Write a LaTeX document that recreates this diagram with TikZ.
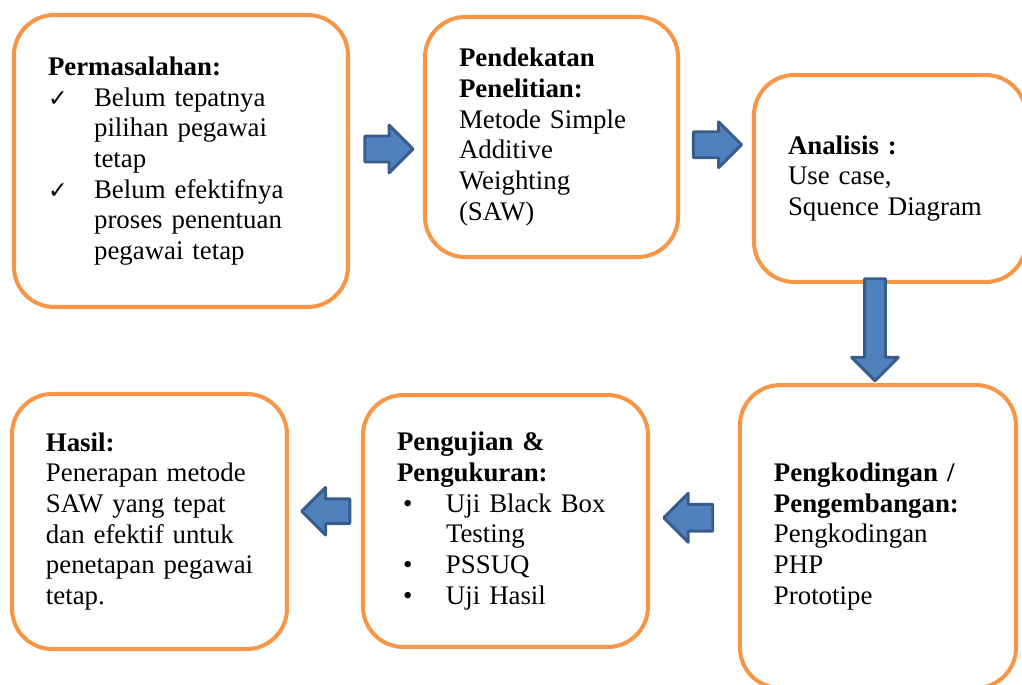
\documentclass[tikz,border=0pt]{standalone}
\usepackage{fontspec}
\setmainfont{Liberation Serif}
\newfontfamily\symfont{DejaVu Sans}
\usetikzlibrary{shapes.arrows,calc}

\definecolor{boxorange}{HTML}{F79646}
\definecolor{arrowfill}{HTML}{4F81BD}
\definecolor{arrowedge}{HTML}{385D8A}

\newcommand{\chk}{\makebox[20.6pt][l]{\symfont\fontsize{10.5}{10.5}\selectfont ✓}}
\newcommand{\bul}{\makebox[21.9pt][l]{\hspace{2.7pt}•}}

\begin{document}
\begin{tikzpicture}[x=0.447pt,y=-0.447pt,
    box/.style={draw=boxorange,line width=1.8pt,rounded corners=18pt,inner sep=0pt,align=left,font=\fontsize{12}{13.7}\selectfont},
    blockarrow/.style={single arrow,draw=arrowedge,fill=arrowfill,line width=1.3pt,line join=round,inner xsep=0pt,single arrow tip angle=90}]
  \useasboundingbox (0,0) rectangle (1022,684);
  % tahapan
  \node[box,minimum width=149.3pt,minimum height=130.5pt,text width=118.9pt] (masalah) at (181,161)
    {\textbf{Permasalahan:}\\ \chk Belum tepatnya\\ \hspace*{20.6pt}pilihan pegawai\\ \hspace*{20.6pt}tetap\\
     \chk Belum efektifnya\\ \hspace*{20.6pt}proses penentuan\\ \hspace*{20.6pt}pegawai tetap};
  \node[box,minimum width=113.1pt,minimum height=107.3pt,text width=82.7pt] (pendekatan) at (551.5,137)
    {\textbf{Pendekatan}\\ \textbf{Penelitian:}\\ Metode Simple\\ Additive\\ Weighting\\ (SAW)};
  \node[box,minimum width=121.6pt,minimum height=92.5pt,text width=91.2pt] (analisis) at (890,178.5)
    {\textbf{Analisis :}\\ Use case,\\ Squence Diagram};
  \node[box,minimum width=123.4pt,minimum height=135.4pt,text width=93pt] (koding) at (878,536.5)
    {\textbf{Pengkodingan /}\\ \textbf{Pengembangan:}\\ Pengkodingan\\ PHP\\ Prototipe};
  \node[box,minimum width=127.4pt,minimum height=112.6pt,text width=97pt] (pengujian) at (505.5,521)
    {\textbf{Pengujian \&}\\ \textbf{Pengukuran:}\\ \bul Uji Black Box\\ \hspace*{21.9pt}Testing\\ \bul PSSUQ\\ \bul Uji Hasil};
  \node[box,minimum width=122.9pt,minimum height=114pt,text width=92.6pt] (hasil) at (149.5,521.5)
    {\textbf{Hasil:}\\ Penerapan metode\\ SAW yang tepat\\ dan efektif untuk\\ \mbox{penetapan pegawai}\\ tetap.};
  % panah
  \node[blockarrow,inner ysep=5.15pt,minimum height=21.5pt,single arrow head extend=4.9pt] (panahA)
    at ($(masalah.east)!.5!(pendekatan.west)+(-4,0)$) {};
  \node[blockarrow,inner ysep=5.15pt,minimum height=21.5pt,single arrow head extend=4.45pt] (panahB)
    at ($(pendekatan.east)!.5!(analisis.west)+(-5,-13)$) {};
  \node[blockarrow,rotate=-90,inner ysep=4pt,minimum height=45.6pt,single arrow head extend=5.8pt] (panahC)
    at ($(analisis.south)!.5!(koding.north)+(-9,-9)$) {};
  \node[blockarrow,rotate=180,inner ysep=5.35pt,minimum height=21.9pt,single arrow head extend=4.95pt] (panahD)
    at ($(koding.west)!.5!(pengujian.east)+(1,-11)$) {};
  \node[blockarrow,rotate=180,inner ysep=4.9pt,minimum height=21.5pt,single arrow head extend=5.1pt] (panahE)
    at ($(pengujian.west)!.5!(hasil.east)+(7,-10)$) {};
\end{tikzpicture}
\end{document}
